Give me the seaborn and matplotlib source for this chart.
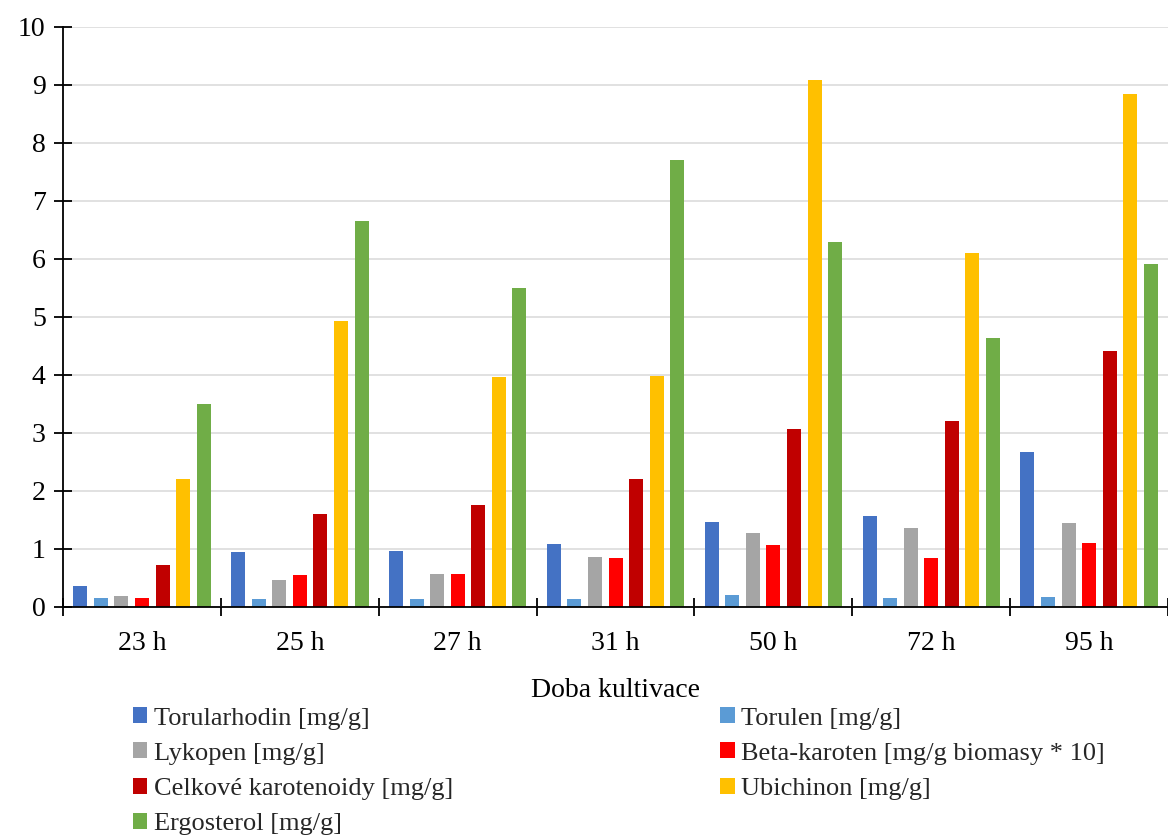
import matplotlib
matplotlib.use("Agg")
import matplotlib.pyplot as plt
from matplotlib.ticker import FixedLocator, NullFormatter
import seaborn as sns
import pandas as pd

# Cultivation times (x categories)
times = ["23 h", "25 h", "27 h", "31 h", "50 h", "72 h", "95 h"]

# Measured series
torularhodin = [0.36, 0.94, 0.97, 1.09, 1.46, 1.57, 2.68]
torulen = [0.16, 0.14, 0.14, 0.14, 0.20, 0.15, 0.18]
lykopen = [0.19, 0.47, 0.57, 0.86, 1.28, 1.37, 1.44]
beta_karoten = [0.16, 0.55, 0.56, 0.84, 1.07, 0.84, 1.10]
celkove_karotenoidy = [0.73, 1.60, 1.76, 2.20, 3.06, 3.21, 4.42]
ubichinon = [2.20, 4.93, 3.96, 3.99, 9.09, 6.10, 8.84]
ergosterol = [3.50, 6.66, 5.50, 7.71, 6.30, 4.64, 5.92]

series_names = [
    "Torularhodin [mg/g]",
    "Torulen [mg/g]",
    "Lykopen [mg/g]",
    "Beta-karoten [mg/g biomasy * 10]",
    "Celkové karotenoidy [mg/g]",
    "Ubichinon [mg/g]",
    "Ergosterol [mg/g]",
]
series_values = [torularhodin, torulen, lykopen, beta_karoten,
                 celkove_karotenoidy, ubichinon, ergosterol]
colors = ["#4472C4", "#5B9BD5", "#A5A5A5", "#FF0000",
          "#C00000", "#FFC000", "#70AD47"]

rows = []
for name, vals in zip(series_names, series_values):
    for t, v in zip(times, vals):
        rows.append({"time": t, "series": name, "value": v})
df = pd.DataFrame(rows)

sns.set_theme(style="white")
plt.rcParams["font.family"] = ["Liberation Serif", "DejaVu Serif"]

fig = plt.figure(figsize=(11.68, 8.38), dpi=100)
ax = fig.add_axes([0.054, 0.2757, 0.946, 0.6921])

sns.barplot(data=df, x="time", y="value", hue="series",
            order=times, hue_order=series_names, palette=colors,
            width=0.912, gap=0.32, saturation=1, errorbar=None,
            linewidth=0, ax=ax)

ax.set_xlim(-0.5, len(times) - 0.5)
ax.set_ylim(0, 10)
ax.set_yticks(range(0, 11))
ax.yaxis.grid(True, color="#D9D9D9", linewidth=1.1)
ax.xaxis.grid(False)
ax.set_axisbelow(True)

for side in ("top", "right"):
    ax.spines[side].set_visible(False)
for side in ("left", "bottom"):
    ax.spines[side].set_color("black")
    ax.spines[side].set_linewidth(1.3)

ax.tick_params(axis="y", direction="inout", length=13, width=1.3,
               color="black", labelsize=20, pad=6, left=True)
ax.tick_params(axis="x", which="major", length=0, labelsize=20, pad=17)
ax.xaxis.set_minor_locator(FixedLocator([i - 0.5 for i in range(len(times) + 1)]))
ax.xaxis.set_minor_formatter(NullFormatter())
ax.tick_params(axis="x", which="minor", direction="inout", length=13,
               width=1.3, color="black", bottom=True)
for lbl in ax.get_xticklabels() + ax.get_yticklabels():
    lbl.set_color("black")

ax.set_xlabel("Doba kultivace", fontsize=20, color="black", labelpad=16)
ax.set_ylabel("")

handles, labels = ax.get_legend_handles_labels()
ax.get_legend().remove()
# two columns filled row by row
order = [0, 2, 4, 6, 1, 3, 5]
fig.legend([handles[i] for i in order], [labels[i] for i in order],
           ncol=2, loc="upper left", bbox_to_anchor=(0.1136, 0.156),
           frameon=False, fontsize=19, handlelength=0.55,
           handleheight=0.55, handletextpad=0.25, labelspacing=0.49,
           columnspacing=10.12, borderaxespad=0, borderpad=0)

fig.savefig("out.png", dpi=100)
